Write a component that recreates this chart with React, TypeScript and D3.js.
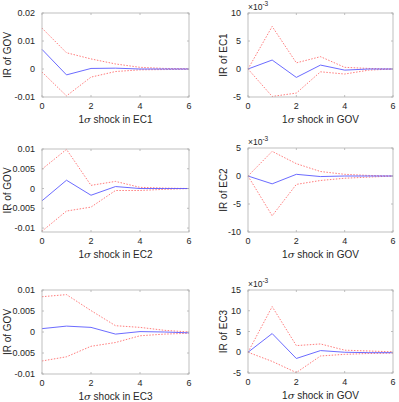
import React, { useEffect, useRef } from 'react';
import * as d3 from 'd3';

// impulse responses, horizon 0..6
const horizon = [0, 1, 2, 3, 4, 5, 6];

const gov_ec1 = [0.007, -0.0021, 0.0002, 0.0003, 0.0, 0.0, 0.0];
const gov_ec1_hi = [0.0146, 0.0058, 0.0036, 0.0018, 0.0006, 0.0002, 0.0001];
const gov_ec1_lo = [-0.0011, -0.0096, -0.0029, -0.0009, -0.0003, -0.0002, -0.0001];

const ec1_gov = [0.0, 1.6, -1.5, 0.7, -0.2, 0.0, 0.0];
const ec1_gov_hi = [0.0, 7.6, 1.1, 2.2, 0.3, 0.1, 0.0];
const ec1_gov_lo = [0.0, -4.9, -4.3, -0.5, -0.9, -0.2, 0.0];

const gov_ec2 = [-0.0031, 0.0021, -0.0017, 0.0005, 0.0, 0.0, 0.0];
const gov_ec2_hi = [0.0049, 0.0099, 0.0008, 0.0018, 0.0003, 0.0001, 0.0];
const gov_ec2_lo = [-0.0108, -0.0057, -0.0047, -0.0005, -0.0005, -0.0002, 0.0];

const ec2_gov = [0.0, -1.4, 0.3, -0.1, 0.0, 0.0, 0.0];
const ec2_gov_hi = [0.0, 4.4, 2.2, 0.8, 0.3, 0.1, 0.0];
const ec2_gov_lo = [0.0, -7.1, -1.5, -0.8, -0.4, -0.2, 0.0];

const gov_ec3 = [0.0008, 0.0014, 0.0011, -0.0005, 0.0001, 0.0, -0.0002];
const gov_ec3_hi = [0.0084, 0.0089, 0.0051, 0.0015, 0.0011, 0.0004, 0.0];
const gov_ec3_lo = [-0.0069, -0.0059, -0.0034, -0.0025, -0.0009, -0.0005, -0.0003];

const ec3_gov = [0.0, 4.5, -1.5, 0.4, 0.0, -0.1, -0.1];
const ec3_gov_hi = [0.0, 11.0, 1.6, 2.0, 0.5, 0.3, 0.1];
const ec3_gov_lo = [0.0, -2.2, -4.9, -0.9, -0.5, -0.3, -0.2];

const xTicks = [0, 2, 4, 6];

const panels = [
  { x: 42, y: 13, w: 147, h: 84, ylab: 'IR of GOV', shock: 'EC1', dom: [-0.01, 0.02], ticks: [-0.01, 0, 0.01, 0.02], fmt: 'plain', mid: gov_ec1, hi: gov_ec1_hi, lo: gov_ec1_lo },
  { x: 248, y: 13, w: 145, h: 84, ylab: 'IR of EC1', shock: 'GOV', dom: [-5, 10], ticks: [-5, 0, 5, 10], fmt: 'e3', mid: ec1_gov, hi: ec1_gov_hi, lo: ec1_gov_lo },
  { x: 42, y: 149, w: 147, h: 83, ylab: 'IR of GOV', shock: 'EC2', dom: [-0.011, 0.01], ticks: [-0.01, -0.005, 0, 0.005, 0.01], fmt: 'plain', mid: gov_ec2, hi: gov_ec2_hi, lo: gov_ec2_lo },
  { x: 248, y: 148, w: 145, h: 84, ylab: 'IR of EC2', shock: 'GOV', dom: [-10, 5], ticks: [-10, -5, 0, 5], fmt: 'e3', mid: ec2_gov, hi: ec2_gov_hi, lo: ec2_gov_lo },
  { x: 42, y: 290, w: 147, h: 84, ylab: 'IR of GOV', shock: 'EC3', dom: [-0.01, 0.01], ticks: [-0.01, -0.005, 0, 0.005, 0.01], fmt: 'plain', mid: gov_ec3, hi: gov_ec3_hi, lo: gov_ec3_lo },
  { x: 248, y: 290, w: 145, h: 83, ylab: 'IR of EC3', shock: 'GOV', dom: [-5, 15], ticks: [-5, 0, 5, 10, 15], fmt: 'e3', mid: ec3_gov, hi: ec3_gov_hi, lo: ec3_gov_lo },
];

const FONT = 'Liberation Sans, Arial, Helvetica, sans-serif';
const TXT = '#262626';
const BOX = '#b0b0b0';

export default function App() {
  const svgRef = useRef<SVGSVGElement>(null);

  useEffect(() => {
    const svg = d3.select(svgRef.current);
    svg.selectAll('*').remove();
    svg.append('rect').attr('width', 399).attr('height', 402).attr('fill', '#fff');

    panels.forEach(p => {
      const g = svg.append('g').attr('transform', `translate(${p.x},${p.y})`);
      const x = d3.scaleLinear().domain([0, 6]).range([0, p.w]);
      const y = d3.scaleLinear().domain(p.dom).range([p.h, 0]);

      const line = d3.line<number>().x((_, i) => x(horizon[i])).y(d => y(d));

      g.append('path').attr('d', line(p.hi)).attr('fill', 'none')
        .attr('stroke', '#ff5a5a').attr('stroke-width', 0.8).attr('stroke-dasharray', '1.5,1.5');
      g.append('path').attr('d', line(p.lo)).attr('fill', 'none')
        .attr('stroke', '#ff5a5a').attr('stroke-width', 0.8).attr('stroke-dasharray', '1.5,1.5');
      g.append('path').attr('d', line(p.mid)).attr('fill', 'none')
        .attr('stroke', '#5a5aff').attr('stroke-width', 0.9);

      // box with inward ticks on every side
      g.append('rect').attr('width', p.w).attr('height', p.h).attr('fill', 'none')
        .attr('stroke', BOX).attr('stroke-width', 0.8);
      const tl = 2;
      xTicks.forEach(t => {
        g.append('line').attr('x1', x(t)).attr('x2', x(t)).attr('y1', p.h).attr('y2', p.h - tl).attr('stroke', BOX).attr('stroke-width', 0.8);
        g.append('line').attr('x1', x(t)).attr('x2', x(t)).attr('y1', 0).attr('y2', tl).attr('stroke', BOX).attr('stroke-width', 0.8);
        g.append('text').attr('x', x(t)).attr('y', p.h + 11.5).attr('text-anchor', 'middle')
          .attr('font-family', FONT).attr('font-size', 9).attr('fill', TXT).text(t);
      });
      p.ticks.forEach(t => {
        g.append('line').attr('x1', 0).attr('x2', tl).attr('y1', y(t)).attr('y2', y(t)).attr('stroke', BOX).attr('stroke-width', 0.8);
        g.append('line').attr('x1', p.w).attr('x2', p.w - tl).attr('y1', y(t)).attr('y2', y(t)).attr('stroke', BOX).attr('stroke-width', 0.8);
        g.append('text').attr('x', -7).attr('y', y(t) + 3.2).attr('text-anchor', 'end')
          .attr('font-family', FONT).attr('font-size', 9).attr('fill', TXT).text(String(t));
      });

      if (p.fmt === 'e3') {
        const e = g.append('text').attr('x', 0).attr('y', -3)
          .attr('font-family', FONT).attr('font-size', 8.5).attr('fill', TXT);
        e.append('tspan').text('\u00d710');
        e.append('tspan').attr('dy', -4).attr('font-size', 6.5).text('-3');
      }

      // axis labels
      const xl = g.append('text').attr('x', p.w / 2).attr('y', p.h + 25.5).attr('text-anchor', 'middle')
        .attr('font-family', FONT).attr('font-size', 10).attr('fill', TXT);
      xl.append('tspan').text('1');
      xl.append('tspan').attr('font-style', 'italic').attr('font-family', 'DejaVu Serif, serif').text('\u03c3');
      xl.append('tspan').text(` shock in ${p.shock}`);

      const yx = p.fmt === 'plain' ? -31 : -21;
      g.append('text').attr('transform', `translate(${yx},${p.h / 2}) rotate(-90)`)
        .attr('text-anchor', 'middle').attr('font-family', FONT).attr('font-size', 10)
        .attr('fill', TXT).text(p.ylab);
    });
  }, []);

  return (
    <svg ref={svgRef} width={399} height={402}
      style={{ position: 'absolute', left: 0, top: 0, display: 'block' }} />
  );
}
